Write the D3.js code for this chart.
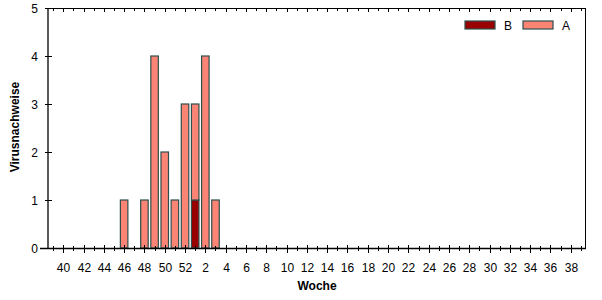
<!DOCTYPE html>
<html>
<head>
<meta charset="utf-8">
<script src="https://cdn.jsdelivr.net/npm/d3@7"></script>
<style>
  body { margin: 0; background: #fff; }
  text { font-family: "Liberation Sans", Arial, sans-serif; }
</style>
</head>
<body>
<div id="chart"></div>
<script>
// Kalenderwochen 39 .. 52, 1 .. 39
const weeks = d3.range(39, 53).concat(d3.range(1, 40));
// Virusnachweise je Woche (nur Wochen mit Werten)
const dataWeeks = [46, 48, 49, 50, 51, 52, 1, 2, 3];
const valuesB = [0, 0, 0, 0, 0, 0, 1, 0, 0];
const valuesA = [1, 1, 4, 2, 1, 3, 2, 4, 1];
const yTicks = [0, 1, 2, 3, 4, 5];
const seriesNames = ['B', 'A'];
const seriesColors = ['#990000', '#fb8475'];

const width = 602, height = 300;
const margin = { top: 8, right: 16, bottom: 52, left: 48 };
const x0 = margin.left, x1 = width - margin.right;
const y0 = height - margin.bottom, y1 = margin.top;

const svg = d3.select('#chart').append('svg')
    .attr('width', width)
    .attr('height', height);

// week 39 appears twice, so the band scale works on positions
const x = d3.scaleBand()
    .domain(d3.range(weeks.length))
    .range([x0, x1])
    .paddingInner(0);
const idx = w => weeks.indexOf(w);

const y = d3.scaleLinear()
    .domain([0, 5])
    .range([y0, y1]);

const barW = x.bandwidth() * 0.74;
const stroke = '#2c4f4c';

// bars (stacked B below A)
const rows = dataWeeks.map((w, i) => ({ week: w, B: valuesB[i], A: valuesA[i] }));
const stacked = d3.stack().keys(seriesNames)(rows);

stacked.forEach((layer, li) => {
    svg.append('g').selectAll('rect')
        .data(layer.filter(d => d[1] > d[0]))
        .join('rect')
        .attr('x', d => x(idx(d.data.week)) + (x.bandwidth() - barW) / 2)
        .attr('y', d => y(d[1]))
        .attr('width', barW)
        .attr('height', d => y(d[0]) - y(d[1]))
        .attr('fill', seriesColors[li])
        .attr('stroke', stroke)
        .attr('stroke-width', 1.2);
});

// frame
svg.append('line').attr('x1', x0).attr('x2', x0).attr('y1', y1).attr('y2', y0)
    .attr('stroke', '#000').attr('stroke-width', 1.3);
svg.append('line').attr('x1', x0).attr('x2', x1).attr('y1', y1 + 0.5).attr('y2', y1 + 0.5)
    .attr('stroke', '#000');
svg.append('line').attr('x1', x1 - 0.5).attr('x2', x1 - 0.5).attr('y1', y1).attr('y2', y0)
    .attr('stroke', '#000');
svg.append('line').attr('x1', x0 - 8).attr('x2', x1).attr('y1', y0 + 0.5).attr('y2', y0 + 0.5)
    .attr('stroke', '#000').attr('stroke-width', 1.3);

// x ticks (bottom, crossing the axis) and top ticks (inward)
const xc = i => Math.round(x(i) + x.bandwidth() / 2) + 0.5;
weeks.forEach((w, i) => {
    const major = w % 2 === 0;
    svg.append('line')
        .attr('x1', xc(i)).attr('x2', xc(i))
        .attr('y1', y0 - (major ? 3 : 2)).attr('y2', y0 + (major ? 5 : 3))
        .attr('stroke', '#000');
    svg.append('line')
        .attr('x1', xc(i)).attr('x2', xc(i))
        .attr('y1', y1).attr('y2', y1 + (major ? 4 : 3))
        .attr('stroke', '#000');
    if (major) {
        svg.append('text')
            .attr('x', xc(i))
            .attr('y', y0 + 24)
            .attr('text-anchor', 'middle')
            .style('font-size', '12px')
            .text(w);
    }
});

// y ticks
yTicks.forEach(t => {
    const yy = Math.round(y(t)) + 0.5;
    svg.append('line')
        .attr('x1', x0 - 3).attr('x2', x0 + 4)
        .attr('y1', yy).attr('y2', yy)
        .attr('stroke', '#000');
    svg.append('text')
        .attr('x', x0 - 10)
        .attr('y', yy + 4)
        .attr('text-anchor', 'end')
        .style('font-size', '12px')
        .text(t);
});

// axis titles
svg.append('text')
    .attr('x', (x0 + x1) / 2)
    .attr('y', 290)
    .attr('text-anchor', 'middle')
    .style('font-size', '12px')
    .style('font-weight', 'bold')
    .text('Woche');

svg.append('text')
    .attr('transform', 'translate(19,127) rotate(-90)')
    .attr('text-anchor', 'middle')
    .style('font-size', '12px')
    .style('font-weight', 'bold')
    .text('Virusnachweise');

// legend
const legendX = [465, 523];
seriesNames.forEach((name, i) => {
    svg.append('rect')
        .attr('x', legendX[i]).attr('y', 21)
        .attr('width', 30).attr('height', 8)
        .attr('fill', seriesColors[i])
        .attr('stroke', stroke)
        .attr('stroke-width', 1.2);
    svg.append('text')
        .attr('x', legendX[i] + 43)
        .attr('y', 30)
        .attr('text-anchor', 'middle')
        .style('font-size', '12px')
        .text(name);
});
</script>
</body>
</html>
